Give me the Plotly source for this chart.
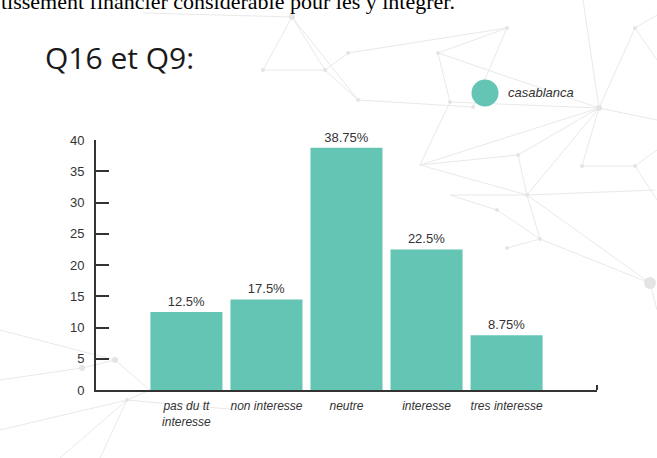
import plotly.graph_objects as go

# ---- data ----
categories = ["pas du tt<br>interesse", "non interesse", "neutre", "interesse", "tres interesse"]
values = [12.5, 14.5, 38.75, 22.5, 8.75]
value_labels = ["12.5%", "17.5%", "38.75%", "22.5%", "8.75%"]
series_name = "casablanca"
y_ticks = [0, 5, 10, 15, 20, 25, 30, 35, 40]

# ---- layout geometry (pixels) ----
W, H = 657, 458
L, R, T, B = 96, 597, 140, 390


def px(x):
    return (x - L) / (R - L)


def py(y):
    return (B - y) / (B - T)


BAR_COLOR = "#64c5b5"
TEXT = "#333333"

fig = go.Figure()
fig.add_trace(go.Bar(
    x=list(range(len(categories))),
    y=values,
    text=value_labels,
    textposition="outside",
    textfont=dict(family="Liberation Sans", size=13, color=TEXT),
    cliponaxis=False,
    marker=dict(color=BAR_COLOR, line=dict(width=0)),
    name=series_name,
    showlegend=False,
))

# background network decoration (light gray lines)
net_lines = [
    ((143, 13), (292, 17)), ((292, 17), (263, 70)), ((292, 17), (325, 70)),
    ((292, 17), (358, 100)), ((263, 70), (325, 70)), ((325, 70), (358, 100)),
    ((348, 53), (325, 70)), ((348, 53), (507, 28)), ((358, 100), (473, 107)),
    ((473, 107), (507, 28)), ((507, 28), (438, 53)), ((438, 53), (599, 108)),
    ((438, 53), (450, 102)), ((450, 102), (599, 108)), ((450, 102), (420, 165)),
    ((420, 165), (599, 108)), ((420, 165), (527, 195)), ((420, 165), (518, 155)),
    ((518, 155), (599, 108)), ((518, 155), (527, 195)), ((599, 108), (635, 28)),
    ((599, 108), (583, 0)), ((599, 108), (657, 120)), ((599, 108), (582, 166)),
    ((599, 108), (527, 195)), ((582, 166), (635, 166)), ((635, 166), (657, 150)),
    ((527, 195), (655, 190)), ((527, 195), (540, 239)), ((527, 195), (650, 283)),
    ((540, 239), (650, 283)), ((450, 195), (497, 210)), ((497, 210), (540, 239)),
    ((507, 248), (540, 239)), ((450, 195), (527, 195)), ((635, 28), (657, 15)),
    ((635, 28), (657, 60)), ((650, 283), (657, 310)), ((635, 166), (657, 200)),
    ((0, 330), (115, 360)), ((82, 368), (115, 360)), ((0, 380), (82, 368)),
    ((115, 360), (150, 390)), ((127, 400), (0, 430)), ((127, 400), (150, 390)),
    ((127, 400), (100, 458)), ((127, 400), (240, 410)), ((60, 458), (127, 400)),
]
net_nodes = [(292, 17, 3), (348, 53, 2), (263, 70, 2), (325, 70, 2), (358, 100, 2),
             (473, 107, 2), (507, 28, 2), (438, 53, 2), (599, 108, 3), (450, 102, 2),
             (518, 155, 2), (582, 166, 2), (635, 166, 2), (527, 195, 2), (540, 239, 2),
             (497, 210, 2), (507, 248, 2), (635, 28, 2), (650, 283, 6), (115, 360, 3),
             (82, 368, 3), (127, 400, 2)]

shapes = []
for (x0, y0), (x1, y1) in net_lines:
    shapes.append(dict(type="line", xref="paper", yref="paper", layer="below",
                       x0=px(x0), y0=py(y0), x1=px(x1), y1=py(y1),
                       line=dict(color="#e9e9e9", width=1)))
for (x, y, r) in net_nodes:
    shapes.append(dict(type="circle", xref="paper", yref="paper", layer="below",
                       x0=px(x - r), x1=px(x + r), y0=py(y + r), y1=py(y - r),
                       fillcolor="#e4e4e4", line=dict(width=0)))

# small upward tick at right end of x axis
shapes.append(dict(type="line", xref="paper", yref="paper",
                   x0=1, x1=1, y0=0, y1=py(385), line=dict(color=TEXT, width=2)))
# legend swatch
shapes.append(dict(type="circle", xref="paper", yref="paper",
                   x0=px(471.5), x1=px(498.5), y0=py(106.5), y1=py(79.5),
                   fillcolor=BAR_COLOR, line=dict(width=0)))

annotations = [
    dict(text="tissement financier considérable pour les y intégrer.",
         xref="paper", yref="paper", x=px(-1), y=py(1), xanchor="left", yanchor="middle",
         showarrow=False, font=dict(family="Liberation Serif", size=22, color="#000000")),
    dict(text="Q16 et Q9:", xref="paper", yref="paper", x=px(43), y=py(58),
         xanchor="left", yanchor="middle", showarrow=False,
         font=dict(family="Open Sans", size=30, color="#1a1a1a")),
    dict(text=series_name, xref="paper", yref="paper", x=px(506), y=py(92),
         xanchor="left", yanchor="middle", showarrow=False,
         font=dict(family="Liberation Sans", size=13, color=TEXT, style="italic")),
]

fig.update_layout(
    width=W, height=H,
    margin=dict(l=L, r=W - R, t=T, b=H - B, pad=0),
    paper_bgcolor="white", plot_bgcolor="rgba(0,0,0,0)",
    bargap=0.1,
    showlegend=False,
    shapes=shapes,
    annotations=annotations,
    xaxis=dict(
        range=[-1.13, 4 + 1.13],
        tickmode="array", tickvals=list(range(len(categories))), ticktext=categories,
        showline=True, linecolor=TEXT, linewidth=2,
        showgrid=False, zeroline=False, ticks="",
        ticklabelstandoff=4,
        tickfont=dict(family="Liberation Sans", size=12, color=TEXT, style="italic"),
    ),
    yaxis=dict(
        range=[0, 40], tickvals=y_ticks,
        showline=True, linecolor=TEXT, linewidth=2,
        showgrid=False, zeroline=False,
        ticks="inside", ticklen=13, tickwidth=2, tickcolor=TEXT,
        ticklabelstandoff=7,
        tickfont=dict(family="Liberation Sans", size=13, color=TEXT),
    ),
)

fig.write_html("out.html")
